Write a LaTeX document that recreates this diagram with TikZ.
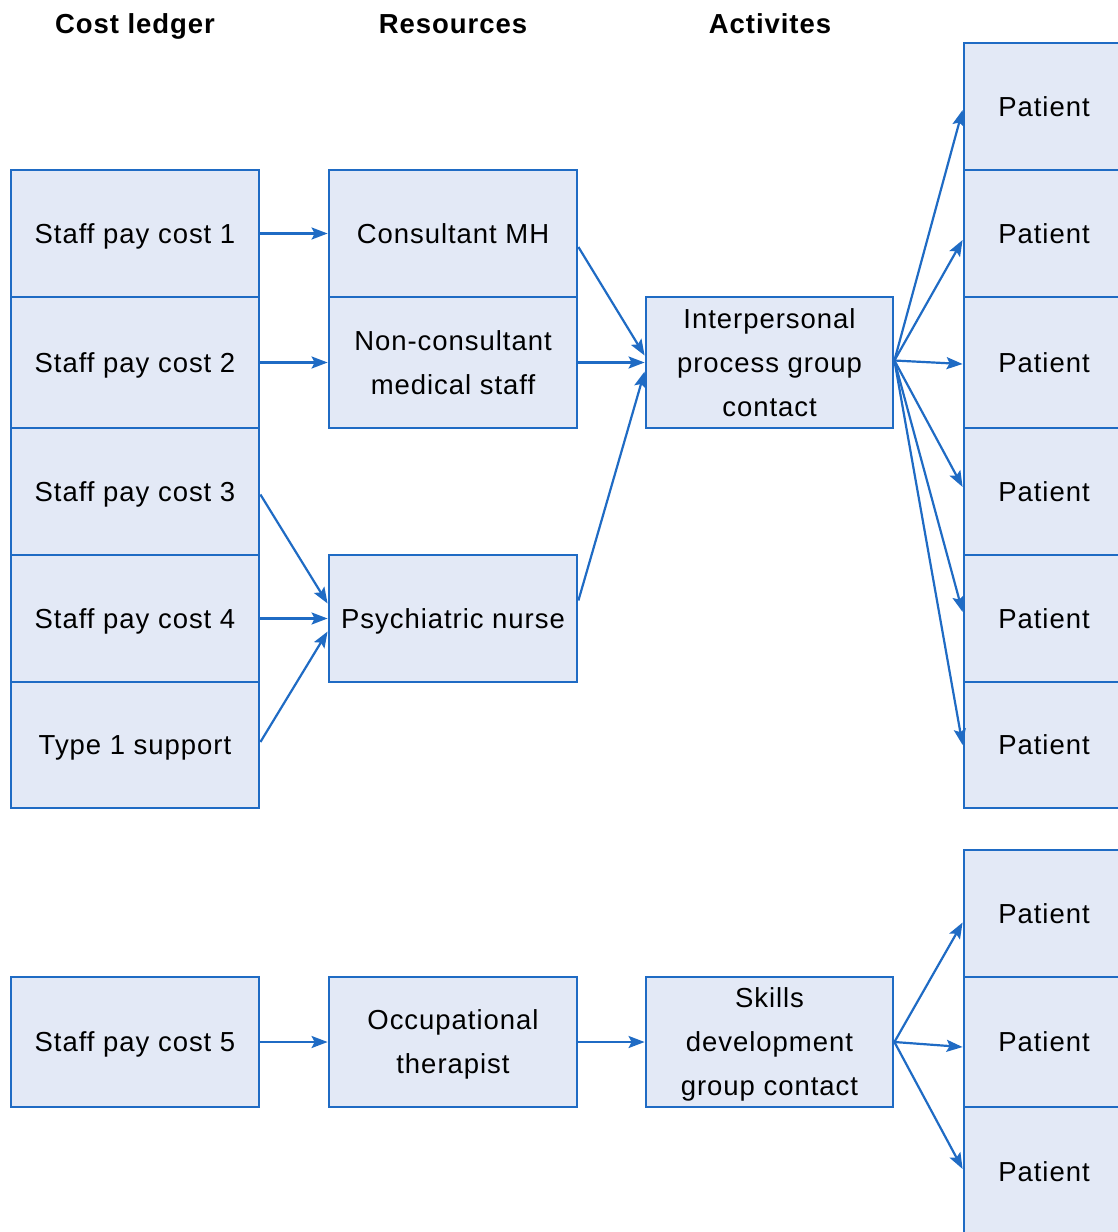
\documentclass[tikz,border=0pt]{standalone}
\usepackage{fontspec}
\setmainfont[LetterSpace=3.5]{Liberation Sans}
\usetikzlibrary{arrows.meta,calc}
\definecolor{bline}{HTML}{1F6BC4}
\definecolor{bfill}{HTML}{E3E9F6}
\tikzset{
  box/.style={draw=bline,fill=bfill,line width=2.8pt,inner sep=0pt,align=center,
    text depth=0pt,font=\fontsize{27.5}{44}\selectfont},
  hdr/.style={font=\fontsize{27.5}{34}\selectfont\bfseries,text depth=0pt},
  arr/.style={draw=bline,line width=2.2pt,-{Stealth[length=16pt,width=12pt,inset=3pt]}}
}
\begin{document}
\begin{tikzpicture}[x=1pt,y=-1pt]
\useasboundingbox (0,0) rectangle (1118,1232);
\clip (0,0) rectangle (1118,1232);
% headers
\node[hdr] (h1) at (135,24) {Cost ledger};
\node[hdr] (h2) at (453,24) {Resources};
\node[hdr] (h3) at (770,24) {Activites};
% column 1
\node[box,minimum width=248pt,minimum height=127pt] (s1) at (135,233.5) {Staff pay cost 1};
\node[box,minimum width=248pt,minimum height=131pt] (s2) at (135,362.5) {Staff pay cost 2};
\node[box,minimum width=248pt,minimum height=127pt] (s3) at (135,491.5) {Staff pay cost 3};
\node[box,minimum width=248pt,minimum height=127pt] (s4) at (135,618.5) {Staff pay cost 4};
\node[box,minimum width=248pt,minimum height=126pt] (t1) at (135,745) {Type 1 support};
\node[box,minimum width=248pt,minimum height=130pt] (s5) at (135,1042) {Staff pay cost 5};
% column 2
\node[box,minimum width=248pt,minimum height=127pt] (cmh) at (453,233.5) {Consultant MH};
\node[box,minimum width=248pt,minimum height=131pt] (ncm) at (453,362.5) {Non-consultant\\medical staff};
\node[box,minimum width=248pt,minimum height=127pt] (pn) at (453,618.5) {Psychiatric nurse};
\node[box,minimum width=248pt,minimum height=130pt] (ot) at (453,1042) {Occupational\\therapist};
% column 3
\node[box,minimum width=247pt,minimum height=131pt] (ip) at (769.5,362.5) {Interpersonal\\process group\\contact};
\node[box,minimum width=247pt,minimum height=130pt] (sd) at (769.5,1042) {Skills\\development\\group contact};
% column 4
\node[box,minimum width=160pt,minimum height=127pt] (p1) at (1044,106.5) {Patient};
\node[box,minimum width=160pt,minimum height=127pt] (p2) at (1044,233.5) {Patient};
\node[box,minimum width=160pt,minimum height=131pt] (p3) at (1044,362.5) {Patient};
\node[box,minimum width=160pt,minimum height=127pt] (p4) at (1044,491.5) {Patient};
\node[box,minimum width=160pt,minimum height=127pt] (p5) at (1044,618.5) {Patient};
\node[box,minimum width=160pt,minimum height=126pt] (p6) at (1044,745) {Patient};
\node[box,minimum width=160pt,minimum height=127pt] (q1) at (1044,913.5) {Patient};
\node[box,minimum width=160pt,minimum height=130pt] (q2) at (1044,1042) {Patient};
\node[box,minimum width=160pt,minimum height=130pt] (q3) at (1044,1172) {Patient};
% arrows
\draw[arr] (s1.east) -- (cmh.west);
\draw[arr] (s2.east) -- (ncm.west);
\draw[arr] ($(s3.east)+(0,3)$) -- ($(pn.west)+(0,-15)$);
\draw[arr] (s4.east) -- (pn.west);
\draw[arr] ($(t1.east)+(0,-3)$) -- ($(pn.west)+(0,13)$);
\draw[arr] (s5.east) -- (ot.west);
\draw[arr] ($(cmh.east)+(0,13.5)$) -- ($(ip.west)+(0,-7)$);
\draw[arr] (ncm.east) -- (ip.west);
\draw[arr] ($(pn.east)+(0,-18)$) -- ($(ip.west)+(0,9)$);
\draw[arr] (ot.east) -- (sd.west);
\coordinate (ipo) at ($(ip.east)+(0,-2)$);
\draw[arr] (ipo) -- ($(p1.west)+(0,3.5)$);
\draw[arr] (ipo) -- ($(p2.west)+(0,6.5)$);
\draw[arr] (ipo) -- ($(p3.west)+(0,1.5)$);
\draw[arr] (ipo) -- ($(p4.west)+(0,-4.5)$);
\draw[arr] (ipo) -- ($(p5.west)+(0,-6.5)$);
\draw[arr] (ipo) -- (p6.west);
\coordinate (sdo) at (sd.east);
\draw[arr] (sdo) -- ($(q1.west)+(0,9)$);
\draw[arr] (sdo) -- ($(q2.west)+(0,5)$);
\draw[arr] (sdo) -- ($(q3.west)+(0,-3)$);
\end{tikzpicture}
\end{document}
